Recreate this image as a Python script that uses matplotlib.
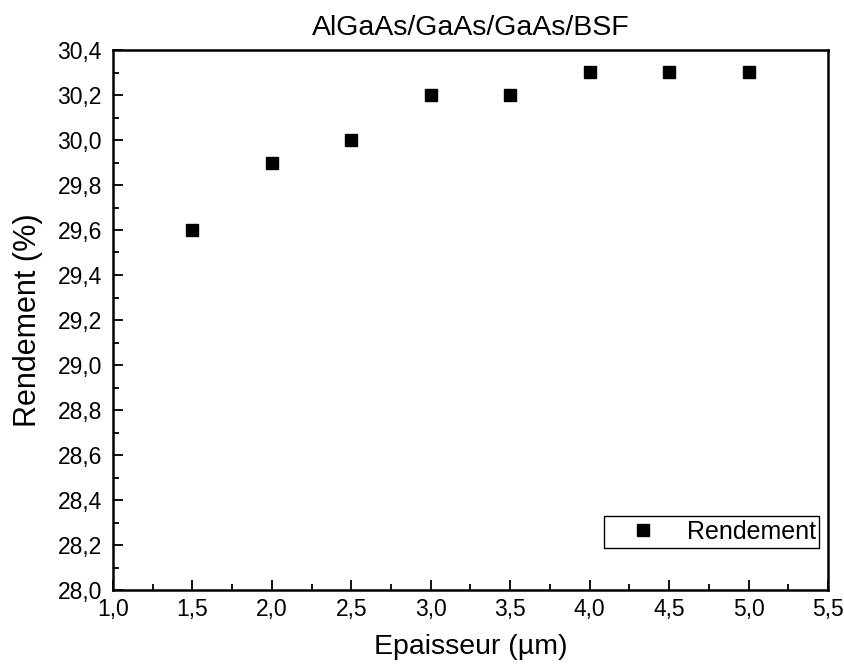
import matplotlib
matplotlib.use("Agg")
import matplotlib.pyplot as plt
from matplotlib.ticker import MultipleLocator, FuncFormatter

plt.rcParams['font.family'] = ['Liberation Sans', 'DejaVu Sans']

epaisseur = [1.5, 2.0, 2.5, 3.0, 3.5, 4.0, 4.5, 5.0]
rendement = [29.6, 29.9, 30.0, 30.2, 30.2, 30.3, 30.3, 30.3]

fig = plt.figure(figsize=(8.45, 6.69), dpi=100)
ax = fig.add_axes([113/845, 1-590/669, (828-113)/845, (590-50)/669])

ax.plot(epaisseur, rendement, linestyle='none', marker='s', color='black',
        markersize=8.5, label='Rendement')

ax.set_xlim(1.0, 5.5)
ax.set_ylim(28.0, 30.4)
ax.xaxis.set_major_locator(MultipleLocator(0.5))
ax.xaxis.set_minor_locator(MultipleLocator(0.25))
ax.yaxis.set_major_locator(MultipleLocator(0.2))
ax.yaxis.set_minor_locator(MultipleLocator(0.1))
fmt = FuncFormatter(lambda v, p: f"{v:.1f}".replace('.', ','))
ax.xaxis.set_major_formatter(fmt)
ax.yaxis.set_major_formatter(fmt)

ax.tick_params(which='both', direction='in', top=False, right=False, labelsize=16.5, width=1.3)
ax.tick_params(which='major', length=7)
ax.tick_params(which='minor', length=4)
ax.tick_params(axis='x', pad=6)
ax.tick_params(axis='y', pad=8)
for s in ax.spines.values():
    s.set_linewidth(1.8)

ax.set_xlabel('Epaisseur (µm)', fontsize=20.5, labelpad=9)
ax.set_ylabel('Rendement (%)', fontsize=22, labelpad=10)
ax.set_title('AlGaAs/GaAs/GaAs/BSF', fontsize=20.5, pad=11)

leg = ax.legend(loc='lower right', bbox_to_anchor=(0.988, 0.078), fontsize=18,
                frameon=True, fancybox=False, edgecolor='black', handletextpad=0.35,
                borderpad=0.15, borderaxespad=0.0, handlelength=2.8, framealpha=1)
leg.get_frame().set_linewidth(1.0)

fig.savefig('out.png', dpi=100)
